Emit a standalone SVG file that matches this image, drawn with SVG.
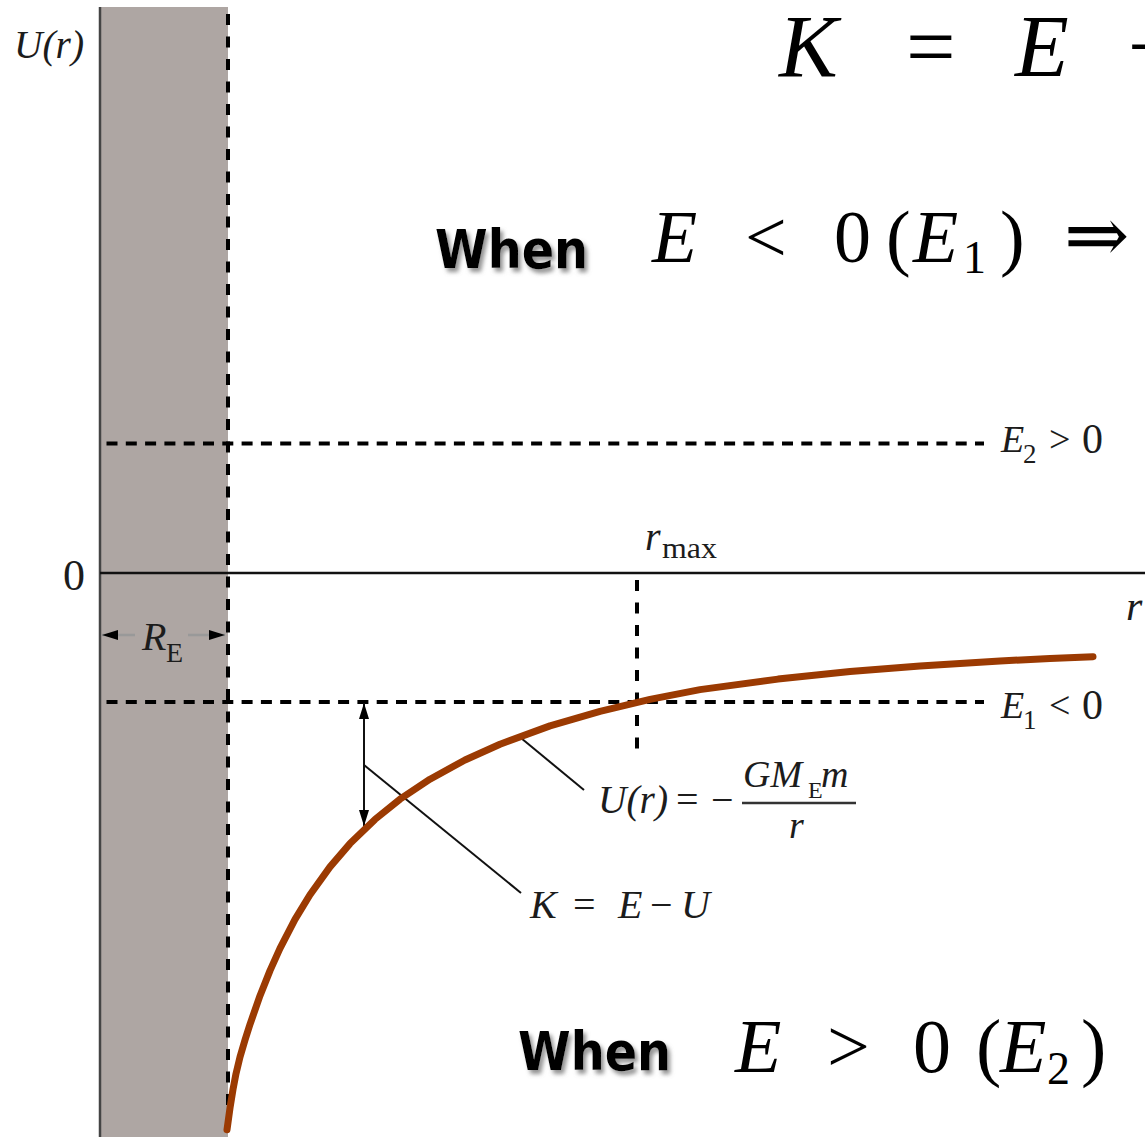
<svg xmlns="http://www.w3.org/2000/svg" width="1145" height="1137" viewBox="0 0 1145 1137">
<defs>
<style>
.lbl{font-family:"Liberation Serif","DejaVu Serif",serif;fill:#1c1c1c}
.it{font-style:italic}
.math{font-family:"Liberation Serif","DejaVu Serif",serif;fill:#000}
.when{font-family:"DejaVu Sans","Liberation Sans",sans-serif;font-weight:bold;font-size:54px;fill:#000}
.dashH{stroke:#000;stroke-width:4;stroke-dasharray:11 8.3;fill:none}
.dashV{stroke:#000;stroke-width:4;stroke-dasharray:11 11.5;fill:none}
.thin{stroke:#111;stroke-width:2;fill:none}
</style>
<filter id="shadow" x="-10%" y="-20%" width="130%" height="150%">
<feDropShadow dx="3" dy="4" stdDeviation="2" flood-color="#777" flood-opacity="0.8"/>
</filter>
<marker id="ahk" viewBox="0 0 16 10" refX="16" refY="5" markerWidth="16" markerHeight="10" orient="auto-start-reverse" markerUnits="userSpaceOnUse">
<path d="M0,0 L16,5 L0,10 z" fill="#000"/>
</marker>
</defs>
<rect width="1145" height="1137" fill="#fff"/>

<g id="earth">
<rect x="101" y="7" width="127" height="1130" fill="#aea6a3"/>
<line x1="100" y1="7" x2="100" y2="1137" stroke="#444" stroke-width="2.5"/>
</g>

<g id="connectors">
<line id="axis-r" x1="100" y1="573" x2="1145" y2="573" stroke="#111" stroke-width="2.5"/>
<line id="re-line" class="dashV" x1="228" y1="14" x2="228" y2="1125"/>
<line id="e2-line" class="dashH" x1="100" y1="443.5" x2="984" y2="443.5" style="stroke-dashoffset:12.8"/>
<line id="e1-line" class="dashH" x1="100" y1="702" x2="984" y2="702" style="stroke-dashoffset:12.8"/>
<line id="rmax-line" class="dashV" x1="637" y1="580" x2="637" y2="750"/>
<line id="re-arrow-l" x1="135" y1="635" x2="102" y2="635" stroke="#999" stroke-width="2.5" marker-end="url(#ahk)"/>
<line id="re-arrow-r" x1="188" y1="635" x2="225" y2="635" stroke="#999" stroke-width="2.5" marker-end="url(#ahk)"/>
<line id="k-arrow" x1="364" y1="703" x2="364" y2="826" stroke="#111" stroke-width="2" marker-start="url(#ahk)" marker-end="url(#ahk)"/>
<line id="k-leader" class="thin" x1="364" y1="765" x2="521" y2="893"/>
<line id="u-leader" class="thin" x1="521" y1="738" x2="584" y2="790"/>
</g>

<g id="potential-curve">
<path d="M227,1129.7 L230,1108.1 L233,1089.4 L236,1073.7 L240,1057 L245,1040.1 L250,1024.3 L260,995.7 L270,970.6 L280,948.4 L295,919.4 L310,894.7 L330,866.9 L350,843.6 L375,819.4 L400,799.2 L430,779.2 L465,760 L500,744.2 L550,725.9 L600,711.3 L650,699.4 L700,689.6 L778,679.1 L850,671.6 L920,666 L1000,661 L1050,658.5 L1093,656.7" fill="none" stroke="#9b3a02" stroke-width="7" stroke-linecap="round" stroke-linejoin="round"/>
</g>

<g id="axis-labels">
<text class="lbl it" x="14" y="58" font-size="40" textLength="70" lengthAdjust="spacingAndGlyphs">U(r)</text>
<text class="lbl" x="63" y="590" font-size="44">0</text>
<text class="lbl it" x="1126" y="620" font-size="42">r</text>
<text class="lbl" x="142" y="650" font-size="40"><tspan class="it">R</tspan><tspan x="166" y="662" font-size="28">E</tspan></text>
<text class="lbl" x="645" y="550" font-size="40"><tspan class="it">r</tspan><tspan x="662" y="558" font-size="30" textLength="55" lengthAdjust="spacingAndGlyphs">max</tspan></text>
</g>

<g id="e2-label">
<text class="lbl" x="1001" y="452" font-size="38"><tspan class="it">E</tspan><tspan x="1023" y="463" font-size="27">2</tspan><tspan x="1049" y="452">&gt;</tspan><tspan x="1082" y="453" font-size="42">0</tspan></text>
</g>
<g id="e1-label">
<text class="lbl" x="1001" y="718" font-size="38"><tspan class="it">E</tspan><tspan x="1023" y="729" font-size="27">1</tspan><tspan x="1049" y="718">&lt;</tspan><tspan x="1082" y="719" font-size="42">0</tspan></text>
</g>

<g id="u-label">
<text class="lbl" x="598" y="813" font-size="40"><tspan class="it" textLength="70" lengthAdjust="spacingAndGlyphs">U(r)</tspan><tspan x="676" y="813">=</tspan><tspan x="711" y="813">−</tspan></text>
<text class="lbl" x="743" y="787" font-size="38"><tspan class="it">GM</tspan><tspan x="808" y="798" font-size="24">E</tspan><tspan class="it" x="821" y="787">m</tspan></text>
<line x1="742" y1="803" x2="856" y2="803" stroke="#333" stroke-width="2.5"/>
<text class="lbl it" x="789" y="838" font-size="38">r</text>
</g>

<g id="k-label">
<text class="lbl" x="530" y="918" font-size="40"><tspan class="it">K</tspan><tspan x="573" y="918">=</tspan><tspan class="it" x="618" y="918">E</tspan><tspan x="650" y="918">−</tspan><tspan class="it" x="681" y="918">U</tspan></text>
</g>

<g id="title">
<text class="math it" x="779" y="76" font-size="88">K</text>
<text class="math" x="906" y="76" font-size="88">=</text>
<text class="math it" x="1015" y="76" font-size="88">E</text>
<text class="math" x="1128" y="76" font-size="88">−</text>
</g>

<g id="condition-e1">
<text class="when" x="435" y="268" textLength="153" lengthAdjust="spacingAndGlyphs" filter="url(#shadow)">When</text>
<text class="math" x="652" y="262" font-size="74"><tspan class="it">E</tspan><tspan x="745" y="262">&lt;</tspan><tspan x="834" y="262">0</tspan><tspan x="886" y="262">(</tspan><tspan class="it" x="913" y="262">E</tspan><tspan x="963" y="273" font-size="46">1</tspan><tspan x="1000" y="262">)</tspan><tspan x="1064" y="262" font-family="DejaVu Serif" font-size="78">⇒</tspan></text>
</g>

<g id="condition-e2">
<text class="when" x="518" y="1070" textLength="153" lengthAdjust="spacingAndGlyphs" filter="url(#shadow)">When</text>
<text class="math" x="735" y="1072" font-size="76"><tspan class="it">E</tspan><tspan x="827" y="1072">&gt;</tspan><tspan x="913" y="1072">0</tspan><tspan x="976" y="1072">(</tspan><tspan class="it" x="1000" y="1072">E</tspan><tspan x="1047" y="1084" font-size="46">2</tspan><tspan x="1081" y="1072">)</tspan></text>
</g>
</svg>
